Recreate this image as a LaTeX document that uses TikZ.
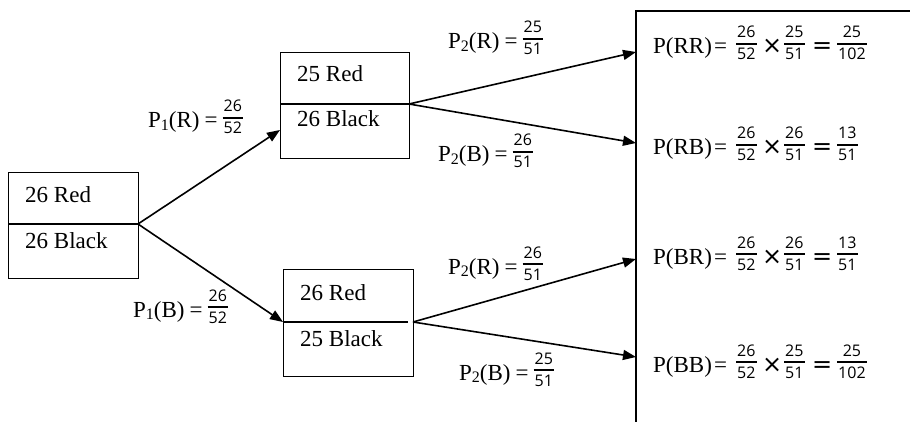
\documentclass[tikz,border=0pt]{standalone}
\usepackage{fontspec}
\setmainfont{Liberation Serif}
\newfontfamily\fracfam{Open Sans}
\newfontfamily\symfam{DejaVu Sans}
\usetikzlibrary{arrows.meta}

\newcommand{\fr}[2]{{\fontsize{16}{18}\fracfam
 \setbox0=\hbox{#1}\setbox2=\hbox{#2}%
 \dimen0=\wd0 \ifdim\wd2>\dimen0 \dimen0=\wd2\fi
 \advance\dimen0 by 2pt
 \hbox{\rlap{\raise16pt\hbox to\dimen0{\hss\box0\hss}}%
   \rlap{\raise9.2pt\hbox{\vrule width\dimen0 height 1.7pt depth 0pt}}%
   \lower6pt\hbox to\dimen0{\hss\box2\hss}}}}
\newcommand{\Pa}[2]{P\raisebox{-2.5pt}{\fontsize{16}{16}\selectfont #1}(#2)}
\newcommand{\timesop}{{\symfam\fontsize{24}{24}\selectfont ×}}
\newcommand{\eqop}{{\symfam\fontsize{24}{24}\selectfont =}}
\newcommand{\atx}[2]{\rlap{\kern#1pt #2}}
\newcommand{\prodline}[4]{\atx{0}{P(#1)}\atx{61}{=}\atx{83}{\fr{26}{52}}\atx{109}{\timesop}\atx{131}{\fr{#2}{51}}\atx{159}{\eqop}\atx{184}{\fr{#3}{#4}}\kern214pt}
\newcommand{\brlabel}[4]{\Pa{#1}{#2}\kern5pt=\kern5pt\fr{#3}{#4}}

\begin{document}
\begin{tikzpicture}[x=1pt, y=-1pt,
  cellbox/.style={draw, line width=1.2pt, inner sep=0pt, anchor=north west},
  txt/.style={inner sep=0pt, anchor=base west, font=\fontsize{23}{27}\selectfont},
  conn/.style={line width=1.6pt, -{Triangle[length=13pt,width=10pt]}},
  divline/.style={line width=1.2pt},
  openbox/.style={line width=1.5pt}]
\useasboundingbox (0,0) rectangle (910,422);

% boxes
\node[cellbox, minimum width=130pt, minimum height=106pt] (A) at (8,172) {};
\node[cellbox, minimum width=129pt, minimum height=106pt] (B) at (280,52) {};
\node[cellbox, minimum width=130pt, minimum height=107pt] (C) at (283,269) {};

% dividers
\coordinate (A-dl) at (8,224);   \coordinate (A-dr) at (138,224);
\coordinate (B-dl) at (280,104); \coordinate (B-dr) at (409,104);
\coordinate (C-dl) at (283,322); \coordinate (C-de) at (408,322);
\coordinate (C-dr) at (413,322);
\draw[divline] (A-dl) -- (A-dr);
\draw[divline] (B-dl) -- (B-dr);
\draw[divline] (C-dl) -- (C-de);

% box texts
\node[txt] (A-red) at (25,203) {26 Red};
\node[txt] (A-blk) at (25,248) {26 Black};
\node[txt] (B-red) at (297,82) {25 Red};
\node[txt] (B-blk) at (297,127) {26 Black};
\node[txt] (C-red) at (300,300) {26 Red};
\node[txt] (C-blk) at (300,346) {25 Black};

% open result box
\coordinate (R-tr) at (912,11);
\coordinate (R-tl) at (636,11);
\coordinate (R-bl) at (636,424);
\draw[openbox] (R-tr) -- (R-tl) -- (R-bl);

% targets
\coordinate (B-in) at (280,130);
\coordinate (t-RR) at (636,52);
\coordinate (t-RB) at (636,143);
\coordinate (t-BR) at (636,259);
\coordinate (t-BB) at (636,357);

% connectors
\draw[conn] (A-dr) -- (B-in);
\draw[conn] (A-dr) -- (C-dl);
\draw[conn] (B-dr) -- (t-RR);
\draw[conn] (B-dr) -- (t-RB);
\draw[conn] (C-dr) -- (t-BR);
\draw[conn] (C-dr) -- (t-BB);

% branch labels
\node[txt] (l-P1R) at (148,128) {\brlabel{1}{R}{26}{52}};
\node[txt] (l-P1B) at (133,317) {\brlabel{1}{B}{26}{52}};
\node[txt] (l-P2R1) at (448,49) {\brlabel{2}{R}{25}{51}};
\node[txt] (l-P2B1) at (438,162) {\brlabel{2}{B}{26}{51}};
\node[txt] (l-P2R2) at (448,274) {\brlabel{2}{R}{26}{51}};
\node[txt] (l-P2B2) at (459,380) {\brlabel{2}{B}{25}{51}};

% results
\node[txt] (r-RR) at (653,54) {\prodline{RR}{25}{25}{102}};
\node[txt] (r-RB) at (653,155) {\prodline{RB}{26}{13}{51}};
\node[txt] (r-BR) at (653,264) {\prodline{BR}{26}{13}{51}};
\node[txt] (r-BB) at (653,372) {\prodline{BB}{25}{25}{102}};
\end{tikzpicture}
\end{document}
